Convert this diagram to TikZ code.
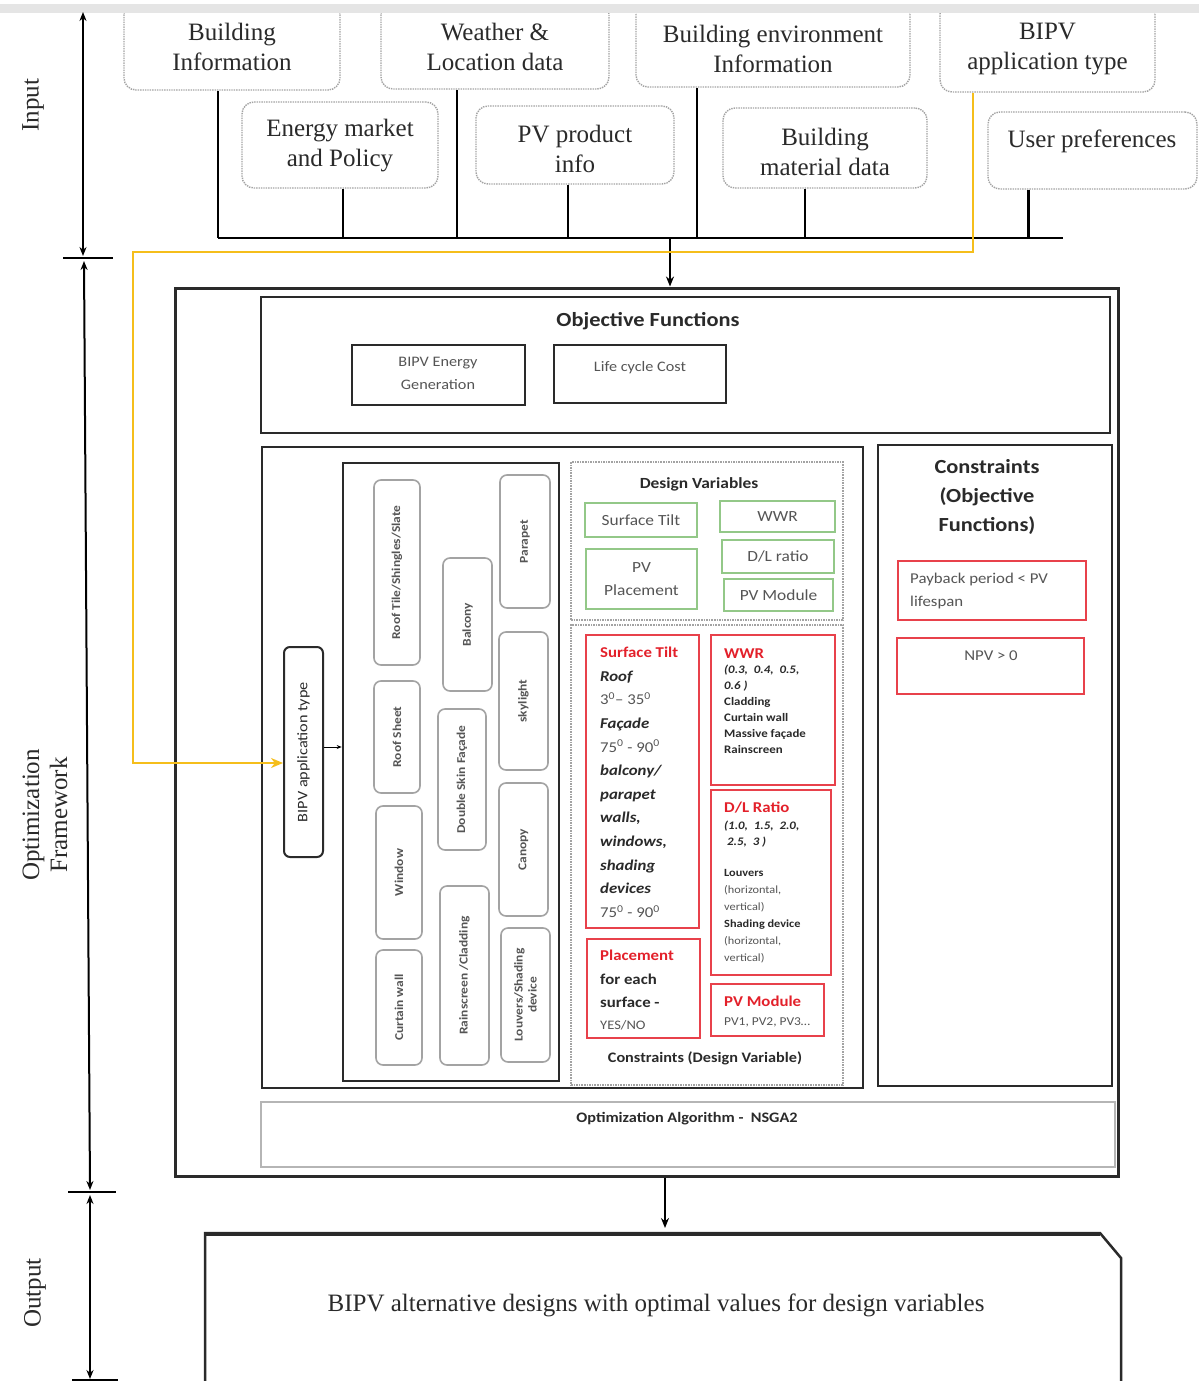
\documentclass[tikz,border=0pt]{standalone}
\usepackage{fontspec}
\setmainfont{Liberation Serif}
\newfontfamily\calfont[FakeStretch=1.12]{Carlito}
\usetikzlibrary{fit,arrows.meta}
\definecolor{redb}{HTML}{E8414B}
\definecolor{redt}{HTML}{E3202A}
\definecolor{greenb}{HTML}{93C888}
\definecolor{yel}{HTML}{F5BE1B}
\definecolor{graybox}{HTML}{A3A3A3}
\definecolor{ink}{HTML}{2A2A2A}
\definecolor{soft}{HTML}{555555}
\tikzset{
  topbox/.style={draw=graybox, densely dotted, line width=1.4pt, rounded corners=12pt, inner sep=0pt},
  toptext/.style={font=\fontsize{25}{30}\selectfont, text=ink, align=center, inner sep=0pt},
  appbox/.style={draw=graybox, line width=1.6pt, rounded corners=7pt, inner sep=0pt},
  apptext/.style={rotate=90, font=\calfont\bfseries\fontsize{12}{14}\selectfont, text=soft, align=center, inner sep=0pt},
  greenbox/.style={draw=greenb, line width=1.6pt, inner sep=0pt},
  greentext/.style={align=center, font=\calfont\fontsize{15.5}{23}\selectfont, text=soft, inner sep=0pt},
  redbox/.style={draw=redb, line width=1.8pt, inner sep=0pt},
  blackbox/.style={draw=ink, line width=1.8pt, inner sep=0pt},
  dotbox/.style={draw=graybox, densely dotted, line width=1.6pt, inner sep=0pt},
  feed/.style={draw=black, line width=2.5pt},
  axis/.style={draw=black, line width=2pt, {Stealth[length=9pt,width=7pt]}-{Stealth[length=9pt,width=7pt]}},
  tick/.style={draw=black, line width=2.2pt},
  title/.style={font=\calfont\bfseries\fontsize{20}{29}\selectfont, text=ink, inner sep=0pt, align=center},
  subtitle/.style={font=\calfont\bfseries\fontsize{15.5}{20}\selectfont, text=ink, inner sep=0pt},
  soft15/.style={font=\calfont\fontsize{15}{23}\selectfont, text=soft, inner sep=0pt, align=center},
  sidelabel/.style={rotate=90, font=\fontsize{25}{28}\selectfont, text=ink, align=center, inner sep=0pt}
}
\begin{document}
\begin{tikzpicture}[x=1pt,y=-1pt]
\useasboundingbox (0,0) rectangle (1199,1381);
\fill[white] (0,0) rectangle (1199,1381);

% ---------- input boxes ----------
\node[topbox, fit={(124,2)(340,90)}] (bi) {};
\node[toptext] (bit) at ([yshift=-1pt]bi.center) {Building\\Information};
\node[topbox, fit={(381,2)(609,89)}] (wl) {};
\node[toptext] (wlt) at ([yshift=-1pt]wl.center) {Weather \&\\Location data};
\node[topbox, fit={(636,2)(910,87)}] (be) {};
\node[toptext] (bet) at ([yshift=-4pt]be.center) {Building environment\\Information};
\node[topbox, fit={(940,2)(1155,92)}] (bt) {};
\node[toptext] (btt) at ([yshift=-2pt]bt.center) {BIPV\\application type};
\node[topbox, fit={(242,102)(438,188)}] (em) {};
\node[toptext] (emt) at ([yshift=-1pt]em.center) {Energy market\\and Policy};
\node[topbox, fit={(476,106)(674,184)}] (pv) {};
\node[toptext] (pvt) at ([yshift=-4pt]pv.center) {PV product\\info};
\node[topbox, fit={(723,108)(927,188)}] (bm) {};
\node[toptext] (bmt) at ([yshift=-4pt]bm.center) {Building\\material data};
\node[topbox, fit={(988,112)(1197,189)}] (up) {};
\node[toptext] (upt) at (1092,141) {User preferences};

% top strip
\fill[white] (0,0) rectangle (1199,4);
\fill[black!10] (0,4) rectangle (1199,13);

% bus
\coordinate (busL) at (218,238);
\coordinate (busR) at (1063,238);
\coordinate (busdrop) at (670,238);
\draw[feed] ([xshift=-14pt]bi.south) -- ([xshift=-14pt]bi.south |- busL);
\draw[feed] ([xshift=3pt]em.south) -- ([xshift=3pt]em.south |- busL);
\draw[feed] ([xshift=-38pt]wl.south) -- ([xshift=-38pt]wl.south |- busL);
\draw[feed] ([xshift=-7pt]pv.south) -- ([xshift=-7pt]pv.south |- busL);
\draw[feed] ([xshift=-76pt]be.south) -- ([xshift=-76pt]be.south |- busL);
\draw[feed] ([xshift=-20pt]bm.south) -- ([xshift=-20pt]bm.south |- busL);
\draw[feed] ([xshift=-64pt]up.south) -- ([xshift=-64pt]up.south |- busL);
\draw[feed] (busL) -- (busR);

% ---------- framework ----------
\node[draw=ink, line width=3pt, inner sep=0pt, fit={(175,288)(1118,1176)}] (frame) {};
\draw[black, line width=2pt, -{Stealth[length=10pt,width=8pt]}] (busdrop) -- (busdrop |- frame.north);

% objective functions
\node[blackbox, fit={(261,297)(1110,433)}] (obj) {};
\node[title] (objt) at (648,321) {Objective Functions};
\node[blackbox, fit={(352,345)(525,405)}] (oe) {};
\node[soft15, font=\calfont\fontsize{14.5}{23}\selectfont] (oet) at (438,373) {BIPV Energy\\Generation};
\node[blackbox, fit={(554,345)(726,403)}] (lc) {};
\node[soft15, font=\calfont\fontsize{14.5}{23}\selectfont] (lct) at (640,368) {Life cycle Cost};

% middle containers
\node[blackbox, line width=2pt, fit={(262,447)(863,1088)}] (mid) {};
\node[blackbox, line width=2pt, fit={(878,445)(1112,1086)}] (cons) {};
\node[blackbox, line width=2.6pt, fit={(343,463)(559,1081)}] (apps) {};

% BIPV application type
\node[draw=ink, line width=2pt, rounded corners=6pt, inner sep=0pt, fit={(284,647)(323,857)}] (app) {};
\node[rotate=90, font=\calfont\fontsize{14.5}{16}\selectfont, text=ink, inner sep=0pt] (appt) at (app.center) {BIPV application type};
\draw[black, line width=1pt, -{Stealth[length=5pt,width=4pt]}] ([yshift=5pt]app.east) -- ([yshift=5pt]app.east -| apps.west);

% application types
\node[appbox, fit={(374,480)(420,665)}] (r1) {};
\node[apptext] (r1t) at (r1.center) {Roof Tile/Shingles/Slate};
\node[appbox, fit={(374,681)(420,793)}] (r2) {};
\node[apptext] (r2t) at (r2.center) {Roof Sheet};
\node[appbox, fit={(376,806)(422,939)}] (r3) {};
\node[apptext] (r3t) at (r3.center) {Window};
\node[appbox, fit={(376,950)(422,1065)}] (r4) {};
\node[apptext] (r4t) at (r4.center) {Curtain wall};
\node[appbox, fit={(443,558)(492,691)}] (c1) {};
\node[apptext] (c1t) at (c1.center) {Balcony};
\node[appbox, fit={(438,709)(486,850)}] (c2) {};
\node[apptext] (c2t) at (c2.center) {Double Skin Façade};
\node[appbox, fit={(440,886)(489,1065)}] (c3) {};
\node[apptext] (c3t) at (c3.center) {Rainscreen /Cladding};
\node[appbox, fit={(500,475)(550,608)}] (p1) {};
\node[apptext] (p1t) at (p1.center) {Parapet};
\node[appbox, fit={(499,632)(548,770)}] (p2) {};
\node[apptext] (p2t) at (p2.center) {skylight};
\node[appbox, fit={(499,783)(548,916)}] (p3) {};
\node[apptext] (p3t) at (p3.center) {Canopy};
\node[appbox, fit={(501,928)(550,1062)}] (p4) {};
\node[apptext] (p4t) at (p4.center) {Louvers/Shading\\device};

% design variables
\node[dotbox, fit={(571,462)(843,620)}] (dv) {};
\node[subtitle] (dvt) at (699,484) {Design Variables};
\node[greenbox, fit={(585,503)(697,537)}] (gst) {};
\node[greentext] (gstt) at (gst.center) {Surface Tilt};
\node[greenbox, fit={(720,501)(835,532)}] (gww) {};
\node[greentext] (gwwt) at (gww.center) {WWR};
\node[greenbox, fit={(586,549)(697,609)}] (gpp) {};
\node[greentext] (gppt) at (gpp.center) {PV\\Placement};
\node[greenbox, fit={(722,540)(834,573)}] (gdl) {};
\node[greentext] (gdlt) at (gdl.center) {D/L ratio};
\node[greenbox, fit={(724,579)(833,611)}] (gpm) {};
\node[greentext] (gpmt) at (gpm.center) {PV Module};

% constraints (design variable)
\node[dotbox, fit={(571,625)(843,1085)}] (cdv) {};
\node[subtitle, font=\calfont\bfseries\fontsize{14.5}{20}\selectfont] (cdvt) at (705,1058) {Constraints (Design Variable)};

\node[redbox, fit={(586,635)(699,928)}] (rst) {};
\node[anchor=north west, inner sep=0pt, align=left, text=ink, font=\calfont\fontsize{15}{23.6}\selectfont] (rstt) at (600,647)
 {{\color{redt}\bfseries Surface Tilt}\\
  \textbf{\textit{Roof}}\\
  {\color{soft}3\textsuperscript{0}– 35\textsuperscript{0}}\\
  \textbf{\textit{Façade}}\\
  {\color{soft}75\textsuperscript{0} - 90\textsuperscript{0}}\\
  \textbf{\textit{balcony/}}\\
  \textbf{\textit{parapet}}\\
  \textbf{\textit{walls,}}\\
  \textbf{\textit{windows,}}\\
  \textbf{\textit{shading}}\\
  \textbf{\textit{devices}}\\
  {\color{soft}75\textsuperscript{0} - 90\textsuperscript{0}}};

\node[redbox, fit={(711,635)(835,785)}] (rww) {};
\node[anchor=west, inner sep=0pt, text=redt, font=\calfont\bfseries\fontsize{15}{18}\selectfont] (rwwt) at (724,654) {WWR};
\node[anchor=north west, inner sep=0pt, align=left, text=ink, font=\calfont\bfseries\fontsize{11.5}{16}\selectfont] (rwwb) at (724,665)
 {\textit{(0.3,\ \ 0.4,\ \ 0.5,}\\
  \textit{0.6 )}\\
  Cladding\\
  Curtain wall\\
  Massive façade\\
  Rainscreen};

\node[redbox, fit={(711,790)(831,975)}] (rdl) {};
\node[anchor=west, inner sep=0pt, text=redt, font=\calfont\bfseries\fontsize{15}{18}\selectfont] (rdlt) at (724,808) {D/L Ratio};
\node[anchor=north west, inner sep=0pt, align=left, text=ink, font=\calfont\bfseries\fontsize{11.5}{16}\selectfont] (rdlb) at (724,821)
 {\textit{(1.0,\ \ 1.5,\ \ 2.0,}\\
  \textit{\ 2.5,\ \ 3 )}};
\node[anchor=north west, inner sep=0pt, align=left, text=ink, font=\calfont\fontsize{11}{17}\selectfont] (rdlc) at (724,869)
 {\textbf{Louvers}\\
  {\color{soft}(horizontal,}\\
  {\color{soft}vertical)}\\
  \textbf{Shading device}\\
  {\color{soft}(horizontal,}\\
  {\color{soft}vertical)}};

\node[redbox, fit={(587,939)(700,1038)}] (rpl) {};
\node[anchor=north west, inner sep=0pt, align=left, text=ink, font=\calfont\bfseries\fontsize{15}{23.5}\selectfont] (rplt) at (600,950)
 {{\color{redt}Placement}\\
  for each\\
  surface -};
\node[anchor=west, inner sep=0pt, text=soft, font=\calfont\fontsize{13}{15}\selectfont] (rplb) at (600,1025) {YES/NO};

\node[redbox, fit={(711,984)(824,1036)}] (rpm) {};
\node[anchor=west, inner sep=0pt, text=redt, font=\calfont\bfseries\fontsize{15}{18}\selectfont] (rpmt) at (724,1001) {PV Module};
\node[anchor=west, inner sep=0pt, text=soft, font=\calfont\fontsize{12}{14}\selectfont] (rpmb) at (724,1022) {PV1, PV2, PV3\dots};

% constraints (objective functions)
\node[title] (const) at (987,497) {Constraints\\(Objective\\Functions)};
\node[redbox, fit={(898,561)(1086,620)}] (pb) {};
\node[anchor=north west, inner sep=0pt, align=left, text=soft, font=\calfont\fontsize{15}{23}\selectfont] (pbt) at (910,573) {Payback period < PV\\lifespan};
\node[redbox, fit={(897,638)(1084,694)}] (npv) {};
\node[soft15] (npvt) at (991,656) {NPV > 0};

% optimization algorithm
\node[draw=graybox!80, line width=2pt, inner sep=0pt, fit={(261,1102)(1115,1167)}] (opt) {};
\node[subtitle, font=\calfont\bfseries\fontsize{14.5}{20}\selectfont] (optt) at (687,1119) {Optimization Algorithm -\ \ NSGA2};

% yellow feed
\coordinate (yc1) at (133,252);
\draw[yel, line width=2.6pt, -{Stealth[length=12pt,width=10pt]}]
  ([xshift=-74.5pt]bt.south) |- (yc1) |- ([yshift=-11pt]app.west);

% ---------- output ----------
\coordinate (outtop) at (665,1233);
\draw[ink, line width=2.5pt] (205,1381) -- (205,1233) -- (1100,1233) -- (1121,1258) -- (1121,1381);
\draw[ink, line width=1.5pt] (205,1235) -- (1100,1235);
\node[font=\fontsize{25}{28}\selectfont, text=ink, inner sep=0pt] (outt) at (656,1305) {BIPV alternative designs with optimal values for design variables};
\draw[black, line width=2pt, -{Stealth[length=10pt,width=8pt]}] (frame.south -| outtop) -- ([yshift=5pt]outtop);

% ---------- left axis ----------
\coordinate (a1) at (83,12);
\coordinate (a2) at (83,256);
\coordinate (b1) at (84,261);
\coordinate (b2) at (90,1190);
\coordinate (c1) at (90,1195);
\coordinate (c2) at (90,1379);
\draw[axis] (a1) -- (a2);
\draw[axis] (b1) -- (b2);
\draw[axis] (c1) -- (c2);
\coordinate (t1a) at (63,258); \coordinate (t1b) at (113,258);
\coordinate (t2a) at (68,1192); \coordinate (t2b) at (116,1192);
\coordinate (t3a) at (72,1380); \coordinate (t3b) at (118,1380);
\draw[tick] (t1a) -- (t1b);
\draw[tick] (t2a) -- (t2b);
\draw[tick] (t3a) -- (t3b);
\node[sidelabel] (lin) at (33,105) {Input};
\node[sidelabel] (lopt) at (45,815) {Optimization\\Framework};
\node[sidelabel] (lout) at (35,1293) {Output};
\end{tikzpicture}
\end{document}
